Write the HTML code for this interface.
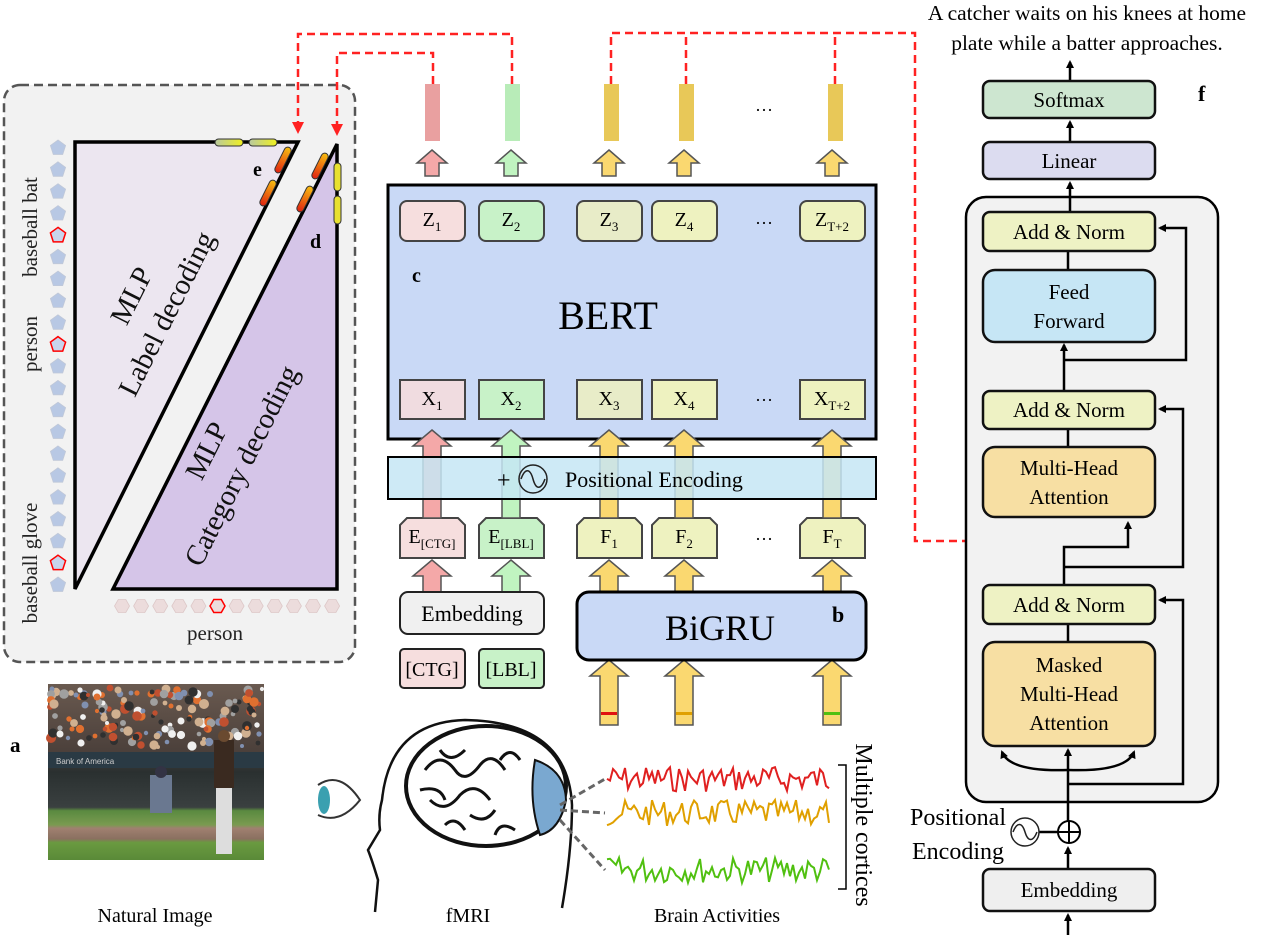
<!DOCTYPE html>
<html><head><meta charset="utf-8">
<style>
html,body{margin:0;padding:0;background:#fff;}
svg{display:block;font-family:"Liberation Serif",serif;}
</style></head>
<body>
<svg id="s" width="1280" height="935" viewBox="0 0 1280 935" xmlns="http://www.w3.org/2000/svg">
<defs>
<marker id="ar" markerWidth="8" markerHeight="8" refX="6" refY="4" orient="auto" markerUnits="userSpaceOnUse"><path d="M0,0 L8,4 L0,8 Z" fill="#000"/></marker>
<marker id="rr" markerWidth="12" markerHeight="12" refX="10" refY="6" orient="auto" markerUnits="userSpaceOnUse"><path d="M0,0 L12,6 L0,12 Z" fill="#f22"/></marker>
<linearGradient id="cap" x1="0" x2="1"><stop offset="0" stop-color="#b8c8a0"/><stop offset="1" stop-color="#f0f020"/></linearGradient>
<linearGradient id="cap2" x1="0" x2="1"><stop offset="0" stop-color="#e02010"/><stop offset="1" stop-color="#f8c010"/></linearGradient>
<linearGradient id="sky" x1="0" y1="0" x2="0" y2="1"><stop offset="0" stop-color="#6a5a50"/><stop offset="0.4" stop-color="#4a3f3a"/><stop offset="0.5" stop-color="#2a3030"/><stop offset="0.7" stop-color="#3a4040"/><stop offset="0.72" stop-color="#5a8a40"/><stop offset="0.8" stop-color="#7a9a50"/><stop offset="0.82" stop-color="#a08070"/><stop offset="0.88" stop-color="#8a7060"/><stop offset="0.9" stop-color="#6a9a40"/><stop offset="1" stop-color="#5a8a38"/></linearGradient>
</defs>

<!-- left panel -->
<rect x="4" y="85" width="351" height="577" rx="16" fill="#f2f2f2" stroke="#555" stroke-width="2.5" stroke-dasharray="9,5"/>
<polygon points="75,142 298,142 75,589" fill="#ece6f0" stroke="#000" stroke-width="3.5"/>
<polygon points="337,144 337,589 113,589" fill="#d5c5e8" stroke="#000" stroke-width="3.5"/>
<g id="pent"></g>
<g font-size="21" fill="#222">
<text transform="translate(37,227) rotate(-90)" text-anchor="middle">baseball bat</text>
<text transform="translate(37,344) rotate(-90)" text-anchor="middle">person</text>
<text transform="translate(37,563) rotate(-90)" text-anchor="middle">baseball glove</text>
<text x="215" y="640" text-anchor="middle">person</text>
</g>
<g font-size="29" fill="#111" text-anchor="middle">
<text transform="translate(140,300) rotate(-63.4)">MLP</text>
<text transform="translate(175,318) rotate(-63.4)">Label decoding</text>
<text transform="translate(215,455) rotate(-63.4)">MLP</text>
<text transform="translate(250,470) rotate(-63.4)">Category decoding</text>
</g>
<text x="253" y="176" font-size="20" font-weight="bold">e</text>
<text x="310" y="248" font-size="20" font-weight="bold">d</text>
<g stroke="#333" stroke-width="1">
<rect x="215" y="139" width="28" height="7" rx="3.5" fill="url(#cap)"/>
<rect x="249" y="139" width="28" height="7" rx="3.5" fill="url(#cap)"/>
<rect transform="translate(283,160) rotate(-63.4)" x="-14" y="-3.5" width="28" height="7" rx="3.5" fill="url(#cap2)"/>
<rect transform="translate(268,193) rotate(-63.4)" x="-14" y="-3.5" width="28" height="7" rx="3.5" fill="url(#cap2)"/>
<rect transform="translate(320,166) rotate(-63.4)" x="-14" y="-3.5" width="28" height="7" rx="3.5" fill="url(#cap2)"/>
<rect transform="translate(305,199) rotate(-63.4)" x="-14" y="-3.5" width="28" height="7" rx="3.5" fill="url(#cap2)"/>
<rect x="334" y="163" width="7" height="28" rx="3.5" fill="#e8e030"/>
<rect x="334" y="196" width="7" height="28" rx="3.5" fill="#e8e030"/>
</g>

<!-- red dashed -->
<g fill="none" stroke="#f22" stroke-width="2.5" stroke-dasharray="8,5">
<polyline points="512,84 512,34 298,34 298,132" marker-end="url(#rr)"/>
<polyline points="433,84 433,53 337,53 337,134" marker-end="url(#rr)"/>
<polyline points="611,84 611,33 915,33 915,541 1066,541 1066,525"/>
<polyline points="686,84 686,33"/>
<polyline points="835,84 835,33"/>
<polyline points="1008,541 1008,525"/>
</g>
<path d="M1002,530 L1008,517 L1014,530 Z M1060,530 L1066,517 L1072,530 Z" fill="#f22"/>

<rect x="425" y="84" width="15" height="57" fill="#e9a0a0"/>
<rect x="505" y="84" width="15" height="57" fill="#b8ecb8"/>
<rect x="604" y="84" width="15" height="57" fill="#e8c858"/>
<rect x="679" y="84" width="15" height="57" fill="#e8c858"/>
<rect x="828" y="84" width="15" height="57" fill="#e8c858"/>
<text x="755" y="116" font-size="18">···</text>
<g id="arrows"></g>

<rect x="388" y="185" width="488" height="254" fill="#c9d9f6" stroke="#000" stroke-width="3"/>
<g id="boxes"></g>
<text x="412" y="282" font-size="20" font-weight="bold">c</text>
<text x="608" y="329" font-size="40" text-anchor="middle">BERT</text>
<g id="arrows2"></g>
<rect x="388" y="457" width="488" height="42" fill="#c6e6f4" fill-opacity="0.85" stroke="#000" stroke-width="2"/>
<text x="497" y="488" font-size="24">+</text>
<circle cx="533" cy="479" r="14" fill="none" stroke="#222" stroke-width="1.5"/>
<path d="M521,479 C525,468 530,468 533,479 C536,490 541,490 545,479" fill="none" stroke="#222" stroke-width="1.5"/>
<text x="565" y="487" font-size="22">Positional Encoding</text>
<rect x="400" y="592" width="144" height="42" rx="8" fill="#f0f0f0" stroke="#222" stroke-width="2"/>
<text x="472" y="621" font-size="22" text-anchor="middle">Embedding</text>
<rect x="577" y="592" width="289" height="68" rx="12" fill="#c9d9f6" stroke="#000" stroke-width="3"/>
<text x="720" y="640" font-size="36" text-anchor="middle">BiGRU</text>
<text x="832" y="622" font-size="22" font-weight="bold">b</text>
<rect x="400" y="649" width="65" height="39" rx="4" fill="#f6dede" stroke="#222" stroke-width="2"/>
<text x="432" y="676" font-size="20" text-anchor="middle">[CTG]</text>
<rect x="479" y="649" width="65" height="39" rx="4" fill="#c8f2c8" stroke="#222" stroke-width="2"/>
<text x="511" y="676" font-size="20" text-anchor="middle">[LBL]</text>

<!-- photo -->
<rect x="48" y="684" width="216" height="176" fill="url(#sky)"/>
<g id="crowd"></g>
<rect x="48" y="752" width="216" height="16" fill="#2a3a44"/>
<text x="56" y="764" font-size="8" fill="#ccc" font-family="Liberation Sans">Bank of America</text>
<rect x="150" y="775" width="22" height="38" fill="#6a7890"/>
<circle cx="161" cy="772" r="6" fill="#334"/>
<rect x="214" y="740" width="20" height="48" fill="#3a2a20"/>
<circle cx="224" cy="736" r="6" fill="#6a4a30"/>
<rect x="216" y="788" width="16" height="66" fill="#ddd"/>
<text x="155" y="922" font-size="20" text-anchor="middle">Natural Image</text>
<text x="10" y="752" font-size="21" font-weight="bold">a</text>

<path d="M318,785 Q340,770 360,800 Q340,825 318,815" fill="none" stroke="#333" stroke-width="2"/>
<ellipse cx="324" cy="800" rx="6" ry="14" fill="#3aa0b0"/>
<path d="M375,912 L378,880 Q372,860 368,850 L380,830 Q378,815 382,800 Q390,722 465,720 Q568,722 572,805 Q572,850 562,908" fill="none" stroke="#111" stroke-width="2.5"/>
<ellipse cx="486" cy="786" rx="80" ry="60" fill="#fff" stroke="#111" stroke-width="4"/>
<path d="M425,770 q15,-20 30,0 q10,15 25,-5 q12,-15 25,5 M430,800 q15,15 30,-5 q15,-15 30,5 M440,750 q10,15 25,0 M470,815 q15,10 25,-5 M420,790 q20,-5 25,10 M500,760 q10,-15 20,0 M495,835 q5,-15 20,-5 M445,825 q10,-10 20,5" fill="none" stroke="#111" stroke-width="3"/>
<path d="M535,760 Q565,770 566,800 Q560,830 540,835 Q528,800 535,760 Z" fill="#7aa8d0" stroke="#111" stroke-width="2"/>
<text x="468" y="922" font-size="20" text-anchor="middle">fMRI</text>
<g stroke="#666" stroke-width="3" stroke-dasharray="7,4" fill="none">
<line x1="560" y1="805" x2="605" y2="779"/><line x1="560" y1="810" x2="605" y2="813"/><line x1="560" y1="820" x2="605" y2="870"/>
</g>
<g id="waves" fill="none" stroke-width="2"></g>
<path d="M838,765 L846,765 L846,889 L838,889" fill="none" stroke="#000" stroke-width="1.5"/>
<text transform="translate(856,825) rotate(90)" font-size="24" text-anchor="middle">Multiple cortices</text>
<text x="717" y="922" font-size="20" text-anchor="middle">Brain Activities</text>

<g font-size="21.5" text-anchor="middle">
<text x="1087" y="20">A catcher waits on his knees at home</text>
<text x="1087" y="50">plate while a batter approaches.</text>
</g>
<rect x="966" y="197" width="252" height="605" rx="20" fill="#f2f2f2" stroke="#000" stroke-width="2.5"/>
<g stroke="#000" stroke-width="2.5" fill="none">
<line x1="1070" y1="81" x2="1070" y2="62" marker-end="url(#ar)"/>
<line x1="1070" y1="142" x2="1070" y2="122" marker-end="url(#ar)"/>
<line x1="1070" y1="212" x2="1070" y2="183" marker-end="url(#ar)"/>
<line x1="1068" y1="270" x2="1068" y2="251"/>
<line x1="1064" y1="391" x2="1064" y2="345" marker-end="url(#ar)"/>
<polyline points="1064,360 1186,360 1186,228 1160,228" marker-end="url(#ar)"/>
<line x1="1068" y1="447" x2="1068" y2="429"/>
<polyline points="1064,585 1064,547 1128,547 1128,523" marker-end="url(#ar)"/>
<polyline points="1064,567 1183,567 1183,409 1160,409" marker-end="url(#ar)"/>
<line x1="1068" y1="642" x2="1068" y2="624"/>
<line x1="1068" y1="821" x2="1068" y2="750" marker-end="url(#ar)"/>
<path d="M1068,770 Q1010,772 1002,752" marker-end="url(#ar)"/>
<path d="M1068,770 Q1126,772 1134,752" marker-end="url(#ar)"/>
<polyline points="1068,784 1183,784 1183,600 1160,600" marker-end="url(#ar)"/>
<line x1="1068" y1="869" x2="1068" y2="848" marker-end="url(#ar)"/>
<line x1="1068" y1="935" x2="1068" y2="915" marker-end="url(#ar)"/>
<line x1="1039" y1="832" x2="1058" y2="832"/>
</g>
<circle cx="1069" cy="832" r="11" fill="#fff" stroke="#000" stroke-width="2"/>
<path d="M1058,832 H1080 M1069,821 V843" stroke="#000" stroke-width="2"/>
<circle cx="1025" cy="832" r="14" fill="#fff" stroke="#222" stroke-width="1.5"/>
<path d="M1013,832 C1017,822 1022,822 1025,832 C1028,842 1033,842 1037,832" fill="none" stroke="#222" stroke-width="1.5"/>
<g font-size="24" text-anchor="end"><text x="1006" y="825">Positional</text><text x="1004" y="859">Encoding</text></g>
<g id="rbox" font-size="21" text-anchor="middle"></g>
<text x="1198" y="101" font-size="22" font-weight="bold">f</text>
</svg>
<script>
function add(id,h){document.getElementById(id).insertAdjacentHTML('beforeend',h);}
var p='';
for(var i=0;i<21;i++){var cy=148+i*21.85,cx=58,r=8,pts=[];for(var k=0;k<5;k++){var a=-Math.PI/2+k*2*Math.PI/5;pts.push((cx+r*Math.cos(a)).toFixed(1)+','+(cy+r*Math.sin(a)).toFixed(1));}
var red=(i==4||i==9||i==19);p+='<polygon points="'+pts.join(' ')+'" fill="'+(red?'#c8d4ec':'#b8c8e4')+'" stroke="'+(red?'#f00':'#c0c8d8')+'" stroke-width="'+(red?1.5:0.8)+'"/>';}
for(var j=0;j<12;j++){var cx=122+j*19.1,cy=606,r=7.5,pts=[];for(var k=0;k<6;k++){var a=k*Math.PI/3;pts.push((cx+r*Math.cos(a)).toFixed(1)+','+(cy+r*Math.sin(a)).toFixed(1));}
var red=(j==5);p+='<polygon points="'+pts.join(' ')+'" fill="#ecdcdc" stroke="'+(red?'#f00':'#ddc8c8')+'" stroke-width="'+(red?1.5:0.8)+'"/>';}
add('pent',p);
function barrow(cx,top,bot,col,hw,sw,hh){return '<polygon points="'+cx+','+top+' '+(cx+hw)+','+(top+hh)+' '+(cx+sw)+','+(top+hh)+' '+(cx+sw)+','+bot+' '+(cx-sw)+','+bot+' '+(cx-sw)+','+(top+hh)+' '+(cx-hw)+','+(top+hh)+'" fill="'+col+'" stroke="#555" stroke-width="1.5"/>';}
var cols=[[432,'#f4a8a8'],[511,'#c0f4c0'],[609,'#fad870'],[684,'#fad870'],[832,'#fad870']];
var a='';cols.forEach(function(c){a+=barrow(c[0],150,176,c[1],15,7,13);});add('arrows',a);
var a2='';cols.forEach(function(c){a2+=barrow(c[0],430,518,c[1],19,9,16);});
cols.forEach(function(c){a2+=barrow(c[0],560,592,c[1],19,9,16);});
[609,684,832].forEach(function(x){a2+=barrow(x,660,725,'#fad870',19,9,16);});
a2+='<rect x="601" y="712" width="16" height="3" fill="#e01010"/><rect x="676" y="712" width="16" height="3" fill="#e0a000"/><rect x="824" y="712" width="16" height="3" fill="#50c010"/>';
add('arrows2',a2);
var xs=[400,479,577,652,800],fz=['#f6dede','#c8f2c8','#e8ecc8','#eef2c0','#eef2c0'],fx=['#f0dce0','#c8f2c8','#e8ecc8','#eef2c0','#eef2c0'];
var b='';
function sub(x,y,m,s,fs){return '<text x="'+x+'" y="'+y+'" text-anchor="middle" font-size="'+fs+'">'+m+'<tspan font-size="'+(fs*0.65)+'" dy="5">'+s+'</tspan></text>';}
var zs=['1','2','3','4','T+2'];
xs.forEach(function(x,i){b+='<rect x="'+x+'" y="201" width="65" height="40" rx="7" fill="'+fz[i]+'" stroke="#444" stroke-width="2"/>'+sub(x+32,226,'Z',zs[i],20);
b+='<rect x="'+x+'" y="380" width="65" height="39" fill="'+fx[i]+'" stroke="#444" stroke-width="2"/>'+sub(x+32,405,'X',zs[i],20);});
var es=[['E','[CTG]'],['E','[LBL]'],['F','1'],['F','2'],['F','T']];
xs.forEach(function(x,i){b+='<polygon points="'+(x+7)+',518 '+(x+58)+',518 '+(x+65)+',525 '+(x+65)+',558 '+x+',558 '+x+',525" fill="'+fz[i].replace('#e8ecc8','#eef2c0')+'" stroke="#444" stroke-width="2"/>'+sub(x+32,543,es[i][0],es[i][1],20);});
b+='<text x="755" y="229" font-size="18">···</text><text x="755" y="406" font-size="18">···</text><text x="755" y="545" font-size="18">···</text>';
add('boxes',b);
var seed=7;function rnd(){seed=(seed*9301+49297)%233280;return seed/233280;}
var w='';[[779,'#e02020'],[813,'#e0a000'],[870,'#50c010']].forEach(function(c){var pts=[];for(var x=607;x<=831;x+=3){pts.push(x+','+(c[0]+(rnd()-0.5)*26).toFixed(1));}w+='<polyline points="'+pts.join(' ')+'" stroke="'+c[1]+'"/>';});
add('waves',w);
var cr='';var cc=['#e07030','#f0f0f0','#8090b0','#d0b090','#303030','#c05030','#a0a0a0'];
for(var i=0;i<160;i++){cr+='<circle cx="'+(50+rnd()*212).toFixed(0)+'" cy="'+(688+rnd()*60).toFixed(0)+'" r="'+(2+rnd()*3).toFixed(1)+'" fill="'+cc[Math.floor(rnd()*cc.length)]+'"/>';}
add('crowd',cr);
var rb=[[983,81,1155,118,'#cde6d0',['Softmax']],[983,142,1155,179,'#dcdcf0',['Linear']],[983,212,1155,251,'#eef2c4',['Add &amp; Norm']],[983,270,1155,342,'#c6e6f5',['Feed','Forward']],[983,391,1155,429,'#eef2c4',['Add &amp; Norm']],[983,447,1155,517,'#f7dfa3',['Multi-Head','Attention']],[983,585,1155,624,'#eef2c4',['Add &amp; Norm']],[983,642,1155,746,'#f7dfa3',['Masked','Multi-Head','Attention']],[983,869,1155,911,'#efefef',['Embedding']]];
var r='';rb.forEach(function(q){var h=q[3]-q[1];r+='<rect x="'+q[0]+'" y="'+q[1]+'" width="'+(q[2]-q[0])+'" height="'+h+'" rx="'+(h>50?12:7)+'" fill="'+q[4]+'" stroke="#111" stroke-width="2.5"/>';var n=q[5].length,cy=(q[1]+q[3])/2;q[5].forEach(function(t,i){r+='<text x="1069" y="'+(cy+(i-(n-1)/2)*29+7).toFixed(0)+'">'+t+'</text>';});});
add('rbox',r);
</script>
</body></html>
